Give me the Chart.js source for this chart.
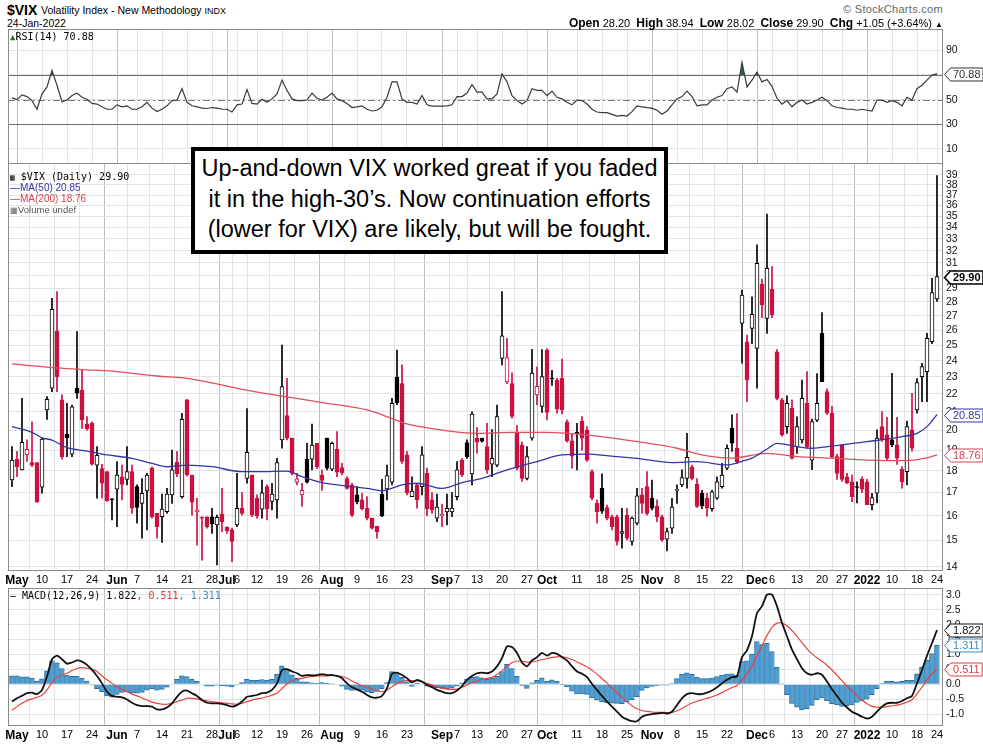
<!DOCTYPE html>
<html>
<head>
<meta charset="utf-8">
<script src="https://cdn.jsdelivr.net/npm/chart.js@4.4.1/dist/chart.umd.min.js"></script>
<style>
  body { margin: 0; background: #fff; width: 983px; height: 745px; overflow: hidden; position: relative;
         font-family: Arial, "Liberation Sans", sans-serif; color: #000; }
  .pane { position: absolute; left: 0; width: 983px; }
  .t { position: absolute; white-space: nowrap; line-height: 1; }
  .mono { font-family: "DejaVu Sans Mono", monospace; font-size: 10px; }
  .note { position: absolute; left: 191px; top: 147px; width: 477px; height: 107px; box-sizing: border-box;
          border: 4px solid #000; background: #fff; text-align: center; font-size: 23.5px; line-height: 30.5px;
          padding-top: 2px; }
  .hdr b { font-size: 12px; }
</style>
</head>
<body>
<div class="pane" style="top:29px;height:135px"><canvas id="rsi"></canvas></div>
<div class="pane" style="top:163px;height:425px"><canvas id="price"></canvas></div>
<div class="pane" style="top:587px;height:158px"><canvas id="macd"></canvas></div>

<div class="t" style="left:7px;top:3px;font-size:14px;font-weight:bold">$VIX</div>
<div class="t" style="left:41px;top:5px;font-size:10.5px">Volatility Index - New Methodology <span style="font-size:9px">INDX</span></div>
<div class="t" style="left:7px;top:18px;font-size:10.5px">24-Jan-2022</div>
<div class="t" style="right:40px;top:4px;font-size:11px;color:#666;letter-spacing:0.3px">&copy; StockCharts.com</div>
<div class="t hdr" style="right:40px;top:17px;font-size:11px"><b>Open</b> 28.20 &nbsp;<b>High</b> 38.94 &nbsp;<b>Low</b> 28.02 &nbsp;<b>Close</b> 29.90 &nbsp;<b>Chg</b> +1.05 (+3.64%) <span style="font-size:8px">&#9650;</span></div>

<div class="t mono" style="left:10px;top:32px"><span style="color:#2e6b30;font-size:9px">&#9650;</span>RSI(14) 70.88</div>
<div class="t mono" style="left:10px;top:172px"><span style="font-size:8px">&#9638;</span> $VIX (Daily) 29.90</div>
<div class="t" style="left:10px;top:183px;font-size:10px;color:#3535a5">&#8212;MA(50) 20.85</div>
<div class="t" style="left:10px;top:194px;font-size:10px;color:#d8404e">&#8212;MA(200) 18.76</div>
<div class="t" style="left:10px;top:205px;font-size:9.5px;color:#555"><span style="font-size:8px">&#9638;</span>Volume undef</div>
<div class="t mono" style="left:10px;top:591px">&#8212; MACD(12,26,9) 1.822<span style="color:#e03a3a">, 0.511</span><span style="color:#3d8ac4">, 1.311</span></div>

<div class="note">Up-and-down VIX worked great if you faded<br>it in the high-30’s. Now continuation efforts<br>(lower for VIX) are likely, but will be fought.</div>

<script>
// x axis: one slot per trading day, 30 Apr 2021 .. 24 Jan 2022
const tickIdx = [1, 6, 11, 16, 21, 25, 30, 35, 40, 43, 45, 49, 54, 59, 64, 69, 74, 79, 86, 89,
                 93, 98, 103, 107, 113, 118, 123, 128, 133, 138, 143, 149, 152, 157, 162, 166, 171, 176, 181, 185];
const tickLbl = ['May', '10', '17', '24', 'Jun', '7', '14', '21', '28', 'Jul', '6', '12', '19', '26', 'Aug', '9', '16', '23', 'Sep', '7',
                 '13', '20', '27', 'Oct', '11', '18', '25', 'Nov', '8', '15', '22', 'Dec', '6', '13', '20', '27', '2022', '10', '18', '24'];
const monthLbl = ['May', 'Jun', 'Jul', 'Aug', 'Sep', 'Oct', 'Nov', 'Dec', '2022'];

const opens = [
  17.57, 18.55, 18.04, 18.76, 18.39, 18.39, 17.24, 21.10, 22.33, 25.94,
  21.66, 19.80, 18.80, 22.33, 22.23, 20.34, 20.38, 18.27, 18.10, 17.96,
  16.70, 17.15, 17.72, 17.60, 17.96, 17.27, 16.53, 17.07, 18.12, 16.10,
  15.96, 16.17, 16.90, 18.40, 16.82, 21.66, 17.80, 16.17, 15.92, 15.96,
  15.96, 15.62, 16.07, 15.52, 15.42, 15.62, 16.32, 17.64, 17.80, 16.75,
  16.28, 17.27, 16.61, 16.68, 19.51, 20.79, 19.60, 17.47, 16.90, 18.55,
  18.55, 19.34, 17.80, 19.60, 18.07, 19.04, 18.15, 17.64, 17.35, 16.90,
  16.68, 16.32, 15.90, 15.57, 16.94, 17.17, 17.47, 22.99, 22.60, 18.76,
  16.82, 17.35, 17.27, 17.88, 16.68, 15.90, 15.99, 16.16, 16.16, 16.82,
  18.51, 19.37, 17.85, 19.60, 19.60, 19.17, 18.31, 18.27, 24.14, 22.70,
  22.60, 19.85, 19.25, 17.64, 19.60, 21.95, 21.30, 24.68, 22.90, 22.80,
  22.92, 20.46, 19.46, 19.90, 20.50, 20.02, 17.96, 16.53, 17.19, 16.35,
  15.96, 15.96, 15.28, 16.03, 14.96, 15.69, 16.90, 17.27, 16.75, 16.40,
  15.96, 15.05, 15.49, 17.10, 17.35, 17.64, 18.19, 17.38, 16.97, 16.75,
  16.30, 16.75, 17.27, 18.12, 20.11, 19.09, 26.46, 25.22, 26.12, 24.79,
  29.30, 26.81, 28.92, 24.57, 21.66, 20.20, 21.19, 19.17, 19.51, 21.47,
  18.51, 20.55, 25.78, 22.14, 20.92, 18.68, 19.26, 17.72, 17.49, 17.27,
  17.60, 17.49, 16.47, 16.97, 20.20, 19.77, 19.51, 19.26, 18.07, 17.96,
  20.03, 21.10, 23.02, 23.32, 25.22, 28.20
];
const highs = [
  19.17, 18.92, 21.75, 19.51, 20.46, 18.39, 19.60, 21.85, 28.25, 28.75,
  21.95, 21.47, 21.37, 25.90, 23.42, 20.74, 20.46, 19.17, 18.30, 17.96,
  16.75, 18.44, 18.27, 19.17, 18.27, 17.35, 17.64, 17.88, 18.19, 16.10,
  16.94, 17.19, 19.00, 18.92, 20.92, 21.70, 17.80, 16.75, 15.96, 15.96,
  16.32, 16.03, 17.19, 15.55, 15.49, 17.88, 17.00, 21.18, 17.80, 16.90,
  17.57, 17.35, 17.42, 18.59, 25.00, 22.92, 19.60, 17.88, 17.42, 19.34,
  20.34, 19.34, 18.04, 19.60, 19.40, 19.94, 18.35, 17.72, 17.42, 17.27,
  16.97, 16.82, 15.90, 15.57, 17.60, 18.27, 21.75, 24.68, 23.74, 18.92,
  17.72, 17.42, 19.17, 18.12, 17.00, 16.94, 16.50, 16.94, 17.00, 18.44,
  18.59, 19.51, 21.00, 20.15, 19.60, 20.38, 20.05, 21.37, 28.75, 25.45,
  23.25, 20.25, 19.40, 19.17, 24.72, 23.60, 24.70, 24.78, 23.40, 22.92,
  24.10, 20.56, 19.85, 20.38, 20.74, 20.20, 18.04, 16.68, 17.85, 16.46,
  16.03, 16.03, 16.32, 16.32, 15.96, 17.19, 17.19, 17.96, 17.57, 16.68,
  16.03, 15.49, 16.75, 17.35, 18.04, 19.85, 18.27, 17.64, 17.10, 16.97,
  17.10, 17.72, 18.35, 19.26, 20.83, 20.90, 28.87, 25.67, 28.37, 32.48,
  29.70, 35.22, 30.70, 24.70, 21.75, 21.90, 21.66, 20.73, 22.82, 23.32,
  20.60, 23.20, 27.21, 22.30, 21.30, 18.80, 19.26, 17.88, 17.80, 17.49,
  17.72, 17.60, 16.97, 20.03, 21.01, 20.70, 23.22, 20.70, 18.20, 20.50,
  22.04, 22.90, 23.84, 25.78, 29.77, 38.94
];
const lows = [
  17.27, 17.72, 18.04, 18.44, 18.19, 16.58, 16.97, 20.59, 22.13, 22.13,
  18.55, 18.68, 18.68, 21.75, 20.11, 20.02, 18.27, 16.75, 16.75, 16.61,
  15.83, 15.55, 16.68, 17.35, 16.10, 15.69, 15.09, 15.42, 15.90, 15.09,
  14.92, 16.10, 16.53, 17.72, 16.75, 17.75, 16.03, 14.82, 14.25, 15.49,
  15.28, 14.07, 15.35, 15.28, 14.19, 15.55, 16.03, 17.42, 15.96, 15.90,
  15.90, 15.83, 16.25, 15.90, 19.09, 19.51, 17.80, 17.35, 16.40, 17.42,
  18.04, 18.10, 17.10, 18.04, 18.00, 17.72, 17.80, 17.15, 15.96, 16.50,
  16.25, 15.83, 15.45, 15.09, 15.96, 16.68, 17.35, 21.40, 18.35, 16.90,
  16.82, 16.32, 16.90, 16.00, 16.10, 15.76, 15.55, 15.62, 15.96, 16.68,
  17.72, 18.59, 17.35, 18.85, 19.40, 17.88, 17.72, 18.19, 23.74, 22.60,
  20.65, 18.04, 17.50, 17.57, 19.50, 21.40, 20.97, 20.56, 22.50, 20.92,
  20.90, 19.40, 18.12, 18.04, 19.00, 18.44, 16.68, 15.69, 16.10, 15.83,
  15.42, 14.82, 14.70, 15.02, 14.82, 15.62, 16.10, 16.03, 16.25, 15.76,
  14.96, 14.60, 15.28, 16.53, 17.27, 17.20, 17.57, 16.35, 16.30, 15.97,
  16.20, 16.70, 17.20, 18.05, 18.93, 18.35, 23.84, 21.56, 25.10, 22.33,
  26.85, 25.78, 26.85, 21.66, 19.70, 19.85, 18.55, 18.84, 19.34, 19.10,
  18.05, 20.47, 22.72, 20.85, 18.60, 17.60, 17.50, 17.40, 16.60, 16.55,
  17.00, 16.47, 16.25, 16.55, 19.43, 18.50, 19.17, 18.30, 17.20, 17.35,
  18.95, 20.92, 21.56, 21.56, 25.10, 28.02
];
const closes = [
  18.51, 18.19, 19.39, 19.04, 18.27, 16.58, 19.55, 21.70, 27.45, 23.02,
  18.68, 19.63, 21.28, 22.04, 20.56, 20.08, 18.31, 18.74, 17.42, 16.65,
  16.68, 17.80, 17.37, 17.96, 16.32, 16.35, 16.97, 17.80, 15.96, 15.55,
  16.28, 16.94, 18.04, 17.85, 20.59, 17.80, 16.58, 16.25, 15.90, 15.55,
  15.66, 15.94, 15.76, 15.39, 14.96, 16.32, 16.10, 18.89, 16.03, 15.99,
  16.99, 16.30, 16.94, 18.39, 22.43, 19.60, 17.88, 17.62, 17.10, 17.47,
  19.25, 18.19, 17.55, 18.12, 19.34, 17.93, 17.90, 17.19, 16.03, 16.60,
  16.30, 15.90, 15.49, 15.35, 15.99, 17.77, 21.47, 21.50, 18.44, 16.99,
  17.07, 16.68, 18.76, 16.30, 16.25, 16.37, 16.06, 16.32, 16.33, 18.04,
  17.80, 18.68, 20.88, 19.40, 19.45, 18.04, 18.59, 20.74, 25.61, 24.20,
  20.74, 18.12, 17.64, 18.68, 23.24, 22.45, 23.02, 20.97, 22.88, 21.15,
  21.10, 19.46, 18.70, 19.82, 19.60, 18.51, 16.75, 16.17, 16.20, 15.90,
  15.55, 14.96, 15.35, 15.09, 15.90, 16.86, 16.53, 16.10, 16.32, 15.96,
  15.03, 15.35, 16.37, 17.15, 17.68, 18.64, 17.64, 16.40, 16.42, 16.32,
  17.04, 17.49, 17.80, 19.09, 19.34, 18.43, 28.50, 22.82, 27.09, 30.96,
  27.76, 30.55, 27.05, 21.75, 19.77, 21.47, 18.60, 20.20, 21.75, 19.17,
  20.47, 21.47, 22.72, 20.92, 18.68, 17.88, 17.60, 17.45, 16.82, 17.23,
  17.15, 16.47, 16.78, 19.60, 19.51, 18.60, 19.26, 18.60, 17.49, 20.20,
  19.09, 22.66, 23.63, 25.45, 28.67, 29.90
];

// moving averages at selected days
const ma50Idx = [0, 4, 6, 8, 11, 15, 18, 24, 28, 31, 35, 40, 46, 50, 55, 58, 62, 65, 71, 74,
                 78, 81, 86, 90, 94, 98, 102, 105, 110, 115, 120, 125, 132, 137, 143, 146, 148, 151, 153, 157,
                 160, 164, 171, 178, 181, 183, 184, 185];
const ma50Val = [20.20, 19.90, 19.62, 19.50, 19.12, 18.95, 18.80, 18.59, 18.35, 18.19, 18.27, 18.19, 17.96, 17.96, 17.98, 17.72, 17.45, 17.35, 17.19, 17.09,
                 17.35, 17.42, 17.19, 17.45, 17.65, 17.96, 18.25, 18.44, 18.76, 18.80, 18.70, 18.59, 18.39, 18.43, 18.28, 18.45, 18.60, 19.05, 19.34, 19.17,
                 19.09, 19.20, 19.42, 19.68, 19.85, 20.20, 20.50, 20.85];
const ma200Idx = [0, 9, 14, 20, 29, 35, 40, 45, 54, 63, 71, 75, 79, 85, 93, 100, 107, 115, 125, 133,
                  138, 144, 151, 157, 164, 171, 178, 183, 185];
const ma200Val = [23.80, 23.55, 23.45, 23.35, 23.06, 22.92, 22.65, 22.33, 21.88, 21.47, 21.10, 20.74, 20.34, 20.06, 19.85, 19.90, 19.90, 19.77, 19.42, 19.09,
                  18.76, 18.60, 18.84, 18.68, 18.60, 18.51, 18.48, 18.62, 18.76];

const rsi = [
  51.4, 50.0, 53.9, 52.5, 49.2, 42.2, 54.7, 60.3, 73.6, 61.7,
  48.3, 49.7, 53.3, 55.3, 51.9, 50.3, 46.9, 46.4, 44.2, 42.2,
  42.2, 45.8, 44.2, 45.0, 42.2, 42.2, 44.2, 47.8, 43.1, 40.3,
  42.2, 45.0, 49.2, 49.7, 58.9, 47.8, 45.0, 44.2, 43.1, 42.8,
  43.6, 43.1, 42.2, 42.2, 40.0, 45.8, 46.4, 58.1, 46.9, 46.4,
  50.3, 47.8, 50.6, 54.7, 65.8, 57.5, 50.6, 49.2, 49.2, 49.7,
  55.3, 51.1, 49.7, 51.9, 55.3, 50.6, 49.2, 46.9, 43.6, 44.2,
  45.0, 42.2, 40.8, 41.4, 44.2, 51.9, 64.4, 64.4, 50.6, 47.8,
  47.8, 46.4, 53.3, 45.8, 44.7, 44.7, 44.7, 45.0, 45.8, 52.5,
  52.5, 55.3, 62.2, 56.1, 56.1, 50.6, 50.6, 54.7, 70.8, 64.4,
  53.3, 49.2, 46.4, 49.2, 58.9, 57.5, 57.5, 53.3, 56.9, 51.9,
  50.6, 47.8, 45.8, 49.7, 49.2, 46.4, 42.2, 40.0, 39.4, 39.4,
  38.1, 36.7, 37.2, 36.7, 40.3, 45.0, 44.2, 43.6, 43.1, 41.4,
  38.1, 40.8, 45.8, 50.6, 52.5, 56.9, 52.5, 45.0, 45.8, 45.8,
  49.7, 51.9, 53.3, 58.9, 60.3, 56.1, 80.3, 60.3, 65.8, 72.2,
  64.4, 66.4, 60.8, 51.1, 46.4, 49.2, 44.2, 47.8, 49.7, 46.4,
  47.8, 49.7, 51.9, 49.2, 45.0, 43.6, 43.1, 42.2, 42.2, 41.4,
  42.2, 41.4, 40.8, 49.7, 49.7, 47.8, 49.2, 47.8, 45.0, 51.9,
  49.7, 58.9, 61.7, 65.8, 70.0, 70.88
];

const macd = [
  -0.58, -0.47, -0.39, -0.30, -0.28, -0.33, -0.19, 0.26, 0.84, 0.96,
  0.84, 0.69, 0.73, 0.80, 0.76, 0.65, 0.48, 0.28, 0.03, -0.25,
  -0.39, -0.42, -0.44, -0.51, -0.62, -0.70, -0.73, -0.73, -0.75, -0.84,
  -0.84, -0.78, -0.64, -0.42, -0.25, -0.21, -0.30, -0.39, -0.53, -0.62,
  -0.64, -0.64, -0.66, -0.70, -0.75, -0.70, -0.58, -0.42, -0.39, -0.36,
  -0.30, -0.28, -0.19, 0.03, 0.48, 0.51, 0.43, 0.37, 0.28, 0.31,
  0.30, 0.31, 0.34, 0.31, 0.31, 0.28, 0.20, 0.03, -0.10, -0.17,
  -0.25, -0.36, -0.44, -0.45, -0.39, -0.13, 0.35, 0.39, 0.31, 0.20,
  0.06, 0.15, 0.09, -0.02, -0.10, -0.19, -0.25, -0.30, -0.30, -0.21,
  -0.06, 0.15, 0.28, 0.37, 0.39, 0.37, 0.43, 0.60, 0.88, 1.27,
  1.25, 1.05, 0.73, 0.60, 0.80, 0.91, 1.05, 0.96, 1.05, 1.02,
  0.91, 0.80, 0.60, 0.43, 0.35, 0.24, 0.01, -0.19, -0.39, -0.58,
  -0.75, -0.92, -1.09, -1.18, -1.24, -1.24, -1.09, -1.03, -1.00, -0.98,
  -0.96, -0.98, -0.92, -0.70, -0.47, -0.33, -0.30, -0.33, -0.33, -0.28,
  -0.21, -0.10, 0.03, 0.15, 0.24, 0.26, 0.91, 1.14, 1.61, 2.39,
  2.62, 3.01, 3.01, 2.62, 2.06, 1.61, 1.16, 0.84, 0.54, 0.37,
  0.32, 0.37, 0.32, 0.09, -0.17, -0.39, -0.62, -0.78, -0.92, -1.00,
  -1.09, -1.15, -1.09, -0.92, -0.75, -0.64, -0.62, -0.62, -0.56, -0.47,
  -0.39, 0.03, 0.48, 0.96, 1.38, 1.822
];
const signal = [
  -0.87, -0.75, -0.64, -0.55, -0.49, -0.44, -0.37, -0.19, 0.06, 0.24,
  0.32, 0.37, 0.46, 0.53, 0.56, 0.54, 0.51, 0.43, 0.28, 0.15,
  0.03, -0.08, -0.17, -0.25, -0.33, -0.39, -0.46, -0.53, -0.60, -0.64,
  -0.67, -0.67, -0.64, -0.58, -0.53, -0.47, -0.47, -0.49, -0.53, -0.56,
  -0.58, -0.61, -0.62, -0.64, -0.66, -0.67, -0.64, -0.58, -0.53, -0.49,
  -0.46, -0.42, -0.36, -0.30, -0.14, 0.01, 0.11, 0.17, 0.20, 0.24,
  0.26, 0.28, 0.28, 0.28, 0.30, 0.28, 0.26, 0.20, 0.11, 0.03,
  -0.05, -0.10, -0.16, -0.21, -0.25, -0.19, -0.08, 0.03, 0.09, 0.12,
  0.12, 0.11, 0.09, 0.03, -0.02, -0.08, -0.14, -0.16, -0.17, -0.16,
  -0.10, -0.02, 0.06, 0.11, 0.17, 0.20, 0.23, 0.33, 0.45, 0.60,
  0.72, 0.78, 0.77, 0.74, 0.75, 0.78, 0.83, 0.86, 0.90, 0.92,
  0.92, 0.89, 0.83, 0.75, 0.67, 0.58, 0.47, 0.34, 0.19, 0.04,
  -0.12, -0.28, -0.44, -0.59, -0.72, -0.82, -0.88, -0.91, -0.93, -0.94,
  -0.94, -0.95, -0.94, -0.89, -0.81, -0.71, -0.63, -0.57, -0.52, -0.47,
  -0.42, -0.36, -0.28, -0.19, -0.11, -0.04, 0.15, 0.35, 0.60, 0.96,
  1.29, 1.64, 1.91, 2.05, 2.05, 1.96, 1.80, 1.61, 1.40, 1.19,
  1.02, 0.89, 0.77, 0.64, 0.48, 0.30, 0.12, -0.06, -0.23, -0.39,
  -0.53, -0.65, -0.74, -0.77, -0.77, -0.75, -0.72, -0.70, -0.66, -0.60,
  -0.52, -0.32, -0.10, 0.15, 0.35, 0.511
];
const hist = [
  0.28, 0.28, 0.25, 0.25, 0.21, 0.11, 0.18, 0.45, 0.79, 0.72,
  0.53, 0.31, 0.27, 0.27, 0.20, 0.11, -0.02, -0.15, -0.25, -0.39,
  -0.43, -0.34, -0.27, -0.26, -0.29, -0.30, -0.27, -0.20, -0.16, -0.20,
  -0.17, -0.10, 0.00, 0.17, 0.28, 0.26, 0.17, 0.10, 0.00, -0.06,
  -0.06, -0.03, -0.05, -0.06, -0.09, -0.02, 0.06, 0.17, 0.14, 0.13,
  0.16, 0.14, 0.17, 0.34, 0.62, 0.50, 0.32, 0.20, 0.08, 0.08,
  0.05, 0.03, 0.06, 0.03, 0.01, 0.00, -0.06, -0.17, -0.21, -0.20,
  -0.20, -0.26, -0.28, -0.24, -0.15, 0.06, 0.43, 0.36, 0.23, 0.08,
  -0.07, 0.03, 0.00, -0.06, -0.08, -0.11, -0.11, -0.15, -0.13, -0.06,
  0.05, 0.17, 0.23, 0.26, 0.22, 0.17, 0.20, 0.27, 0.43, 0.67,
  0.53, 0.27, -0.04, -0.14, 0.05, 0.13, 0.22, 0.10, 0.15, 0.10,
  -0.01, -0.09, -0.23, -0.32, -0.32, -0.34, -0.46, -0.53, -0.58, -0.62,
  -0.63, -0.64, -0.65, -0.59, -0.52, -0.42, -0.21, -0.12, -0.07, -0.04,
  -0.02, -0.03, 0.02, 0.19, 0.34, 0.38, 0.33, 0.24, 0.19, 0.19,
  0.21, 0.26, 0.31, 0.34, 0.35, 0.30, 0.76, 0.79, 1.01, 1.43,
  1.33, 1.37, 1.10, 0.57, 0.01, -0.35, -0.64, -0.77, -0.86, -0.82,
  -0.71, -0.52, -0.46, -0.55, -0.65, -0.69, -0.74, -0.72, -0.69, -0.61,
  -0.56, -0.50, -0.35, -0.15, 0.02, 0.11, 0.10, 0.08, 0.10, 0.13,
  0.13, 0.35, 0.58, 0.81, 1.03, 1.311
];

const priceTicks = [14, 15, 16, 17, 18, 19, 20, 21, 22, 23, 24, 25, 26, 27, 28, 29, 30, 31, 32, 33, 34, 35, 36, 37, 38, 39];
const rsiTicks = [10, 30, 50, 70, 90];
const macdTicks = [-1, -0.5, 0, 0.5, 1, 1.5, 2, 2.5, 3];

const RED = '#cc1040';
const FONT = 'Arial, "Liberation Sans", sans-serif';
const N = closes.length;
const days = closes.map((c, i) => i);

// hollow when close >= open, red when close below previous close
const candleColor = days.map(i => (i === 0 || closes[i] >= closes[i - 1]) ? '#000000' : RED);
const bodyFill = days.map(i => closes[i] < opens[i] ? candleColor[i] : '#ffffff');

function xAxis(labelHeight) {
  return {
    type: 'linear', min: -0.8, max: 186.2, offset: false,
    afterBuildTicks: s => { s.ticks = tickIdx.map(v => ({ value: v })); },
    afterFit: s => { s.height = labelHeight; s.paddingLeft = 0; s.paddingRight = 0; },
    grid: { drawTicks: false, color: c => monthLbl.includes(tickLbl[c.index]) ? '#bdbdbd' : '#e3e3e3' },
    border: { display: false },
    ticks: {
      display: labelHeight > 0, autoSkip: false, maxRotation: 0, padding: 2, color: '#000',
      callback: (v, i) => tickLbl[i],
      font: c => monthLbl.includes(tickLbl[c.index])
        ? { family: FONT, size: 12, weight: 'bold' }
        : { family: FONT, size: 11 }
    }
  };
}

function yAxis(type, min, max, ticks, fmt) {
  return {
    type, position: 'right', min, max,
    afterBuildTicks: s => { s.ticks = ticks.map(v => ({ value: v })); },
    afterFit: s => { s.width = 40; s.paddingTop = 0; s.paddingBottom = 0; },
    grid: { drawTicks: false, color: '#e3e3e3' },
    border: { display: false },
    ticks: { padding: 3, color: '#111', font: { family: FONT, size: 10.5 }, callback: fmt }
  };
}

const framePlugin = {
  id: 'frame',
  afterDraw(chart) {
    const { ctx, chartArea: a } = chart;
    ctx.save();
    ctx.strokeStyle = '#8c8c8c';
    ctx.lineWidth = 1;
    ctx.strokeRect(Math.round(a.left) + 0.5, Math.round(a.top) + 0.5,
                   Math.round(a.right - a.left) - 1, Math.round(a.bottom - a.top) - 1);
    ctx.restore();
  }
};

const refPlugin = {
  id: 'refs',
  beforeDatasetsDraw(chart, args, opts) {
    const { ctx, chartArea: a } = chart;
    const y = chart.scales.y;
    ctx.save();
    (opts.lines || []).forEach(l => {
      const py = Math.round(y.getPixelForValue(l.value)) + 0.5;
      ctx.strokeStyle = l.color;
      ctx.lineWidth = 1;
      ctx.setLineDash(l.dash || []);
      ctx.beginPath();
      ctx.moveTo(a.left, py);
      ctx.lineTo(a.right, py);
      ctx.stroke();
    });
    ctx.restore();
  }
};

const tagPlugin = {
  id: 'tags',
  afterDraw(chart, args, opts) {
    const { ctx, chartArea: a } = chart;
    const y = chart.scales.y;
    ctx.save();
    (opts.items || []).forEach(t => {
      const py = Math.round(y.getPixelForValue(t.value)) + 0.5;
      const x = a.right + 1.5;
      ctx.font = (t.bold ? 'bold ' : '') + '11px ' + FONT;
      const w = ctx.measureText(t.text).width + 5;
      const h = 13;
      ctx.beginPath();
      ctx.moveTo(x, py);
      ctx.lineTo(x + 6, py - h / 2);
      ctx.lineTo(x + 6 + w, py - h / 2);
      ctx.lineTo(x + 6 + w, py + h / 2);
      ctx.lineTo(x + 6, py + h / 2);
      ctx.closePath();
      ctx.fillStyle = '#fff';
      ctx.fill();
      ctx.lineWidth = t.bold ? 1.6 : 1;
      ctx.strokeStyle = t.color;
      ctx.stroke();
      ctx.fillStyle = t.color;
      ctx.textBaseline = 'middle';
      ctx.fillText(t.text, x + 8.5, py + 0.5);
    });
    ctx.restore();
  }
};

const common = {
  responsive: true, maintainAspectRatio: false, animation: false,
  events: [],
  plugins: { legend: { display: false }, tooltip: { enabled: false } }
};

// RSI panel
new Chart(document.getElementById('rsi'), {
  type: 'line',
  data: {
    datasets: [{
      data: days.map(i => ({ x: i, y: rsi[i] })),
      borderColor: '#3a3a3a', borderWidth: 1.2, pointRadius: 0, tension: 0,
      fill: { target: { value: 70 }, above: '#2e6b30', below: 'rgba(0,0,0,0)' }
    }]
  },
  options: {
    ...common,
    layout: { padding: { left: 8, right: 0, top: 0, bottom: 0 } },
    scales: {
      x: xAxis(0),
      y: yAxis('linear', -2.2, 107.3, rsiTicks, v => v === 70 ? '' : String(v))
    },
    plugins: {
      ...common.plugins,
      refs: { lines: [
        { value: 70, color: '#6e6e6e' },
        { value: 30, color: '#6e6e6e' },
        { value: 50, color: '#777777', dash: [7, 3, 2, 3] }
      ] },
      tags: { items: [{ value: rsi[N - 1], text: rsi[N - 1].toFixed(2), color: '#333' }] }
    }
  },
  plugins: [refPlugin, framePlugin, tagPlugin]
});

// price panel
new Chart(document.getElementById('price'), {
  type: 'bar',
  data: {
    datasets: [
      {
        type: 'line', data: ma50Idx.map((x, k) => ({ x, y: ma50Val[k] })),
        borderColor: '#3535a5', borderWidth: 1.3, pointRadius: 0, cubicInterpolationMode: 'monotone', order: 1
      },
      {
        type: 'line', data: ma200Idx.map((x, k) => ({ x, y: ma200Val[k] })),
        borderColor: '#e0505a', borderWidth: 1.3, pointRadius: 0, cubicInterpolationMode: 'monotone', order: 1
      },
      {
        data: days.map(i => ({ x: i, y: [Math.min(opens[i], closes[i]), Math.max(opens[i], closes[i])] })),
        backgroundColor: bodyFill, borderColor: candleColor, borderWidth: 1, borderSkipped: false,
        barThickness: 4, minBarLength: 1, grouped: false, order: 2
      },
      {
        data: days.map(i => ({ x: i, y: [lows[i], highs[i]] })),
        backgroundColor: candleColor, borderWidth: 0, barThickness: 1, grouped: false, order: 3
      }
    ]
  },
  options: {
    ...common,
    layout: { padding: { left: 8, right: 0, top: 0, bottom: 0 } },
    scales: {
      x: xAxis(17),
      y: yAxis('logarithmic', 13.85, 40.24, priceTicks, v => String(v))
    },
    plugins: {
      ...common.plugins,
      tags: { items: [
        { value: closes[N - 1], text: closes[N - 1].toFixed(2), color: '#000', bold: true },
        { value: ma50Val[ma50Val.length - 1], text: ma50Val[ma50Val.length - 1].toFixed(2), color: '#3535a5' },
        { value: ma200Val[ma200Val.length - 1], text: ma200Val[ma200Val.length - 1].toFixed(2), color: '#d8404e' }
      ] }
    }
  },
  plugins: [framePlugin, tagPlugin]
});

// MACD panel
new Chart(document.getElementById('macd'), {
  type: 'bar',
  data: {
    datasets: [
      {
        type: 'line', data: days.map(i => ({ x: i, y: macd[i] })),
        borderColor: '#111', borderWidth: 1.8, pointRadius: 0, tension: 0.2, order: 1
      },
      {
        type: 'line', data: days.map(i => ({ x: i, y: signal[i] })),
        borderColor: '#e8413c', borderWidth: 1.2, pointRadius: 0, tension: 0.2, order: 2
      },
      {
        data: days.map(i => ({ x: i, y: hist[i] })),
        backgroundColor: '#4f9fd4', borderColor: '#2a6c98',
        borderWidth: { left: 1, right: 0, top: 1, bottom: 1 }, borderSkipped: 'start',
        barThickness: 5, grouped: false, order: 3
      }
    ]
  },
  options: {
    ...common,
    layout: { padding: { left: 8, right: 0, top: 1, bottom: 0 } },
    scales: {
      x: xAxis(19),
      y: yAxis('linear', -1.40, 3.23, macdTicks, v => v.toFixed(1))
    },
    plugins: {
      ...common.plugins,
      tags: { items: [
        { value: macd[N - 1], text: macd[N - 1].toFixed(3), color: '#111' },
        { value: hist[N - 1], text: hist[N - 1].toFixed(3), color: '#3d8ac4' },
        { value: signal[N - 1], text: signal[N - 1].toFixed(3), color: '#e03a3a' }
      ] }
    }
  },
  plugins: [framePlugin, tagPlugin]
});
</script>
</body>
</html>
